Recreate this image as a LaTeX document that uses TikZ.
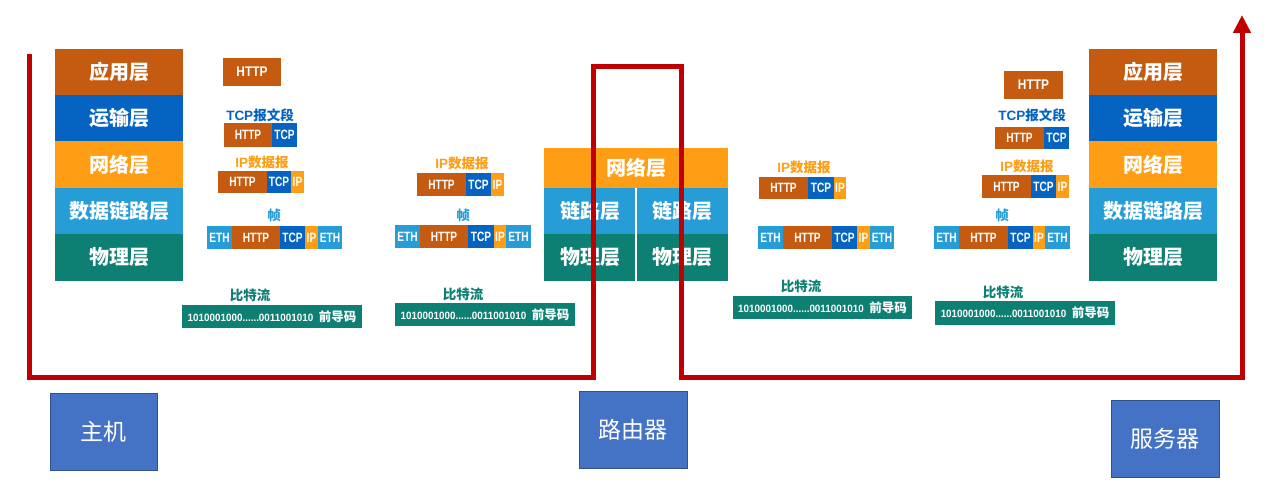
\documentclass[tikz,border=0pt]{standalone}
\usepackage{fontspec}
\setmainfont{Liberation Sans}
\newfontfamily\cjk{Noto Sans CJK SC}
\newfontfamily\segfont{Liberation Sans}[FakeStretch=0.75]
\newfontfamily\httpfont{Liberation Sans}[FakeStretch=0.85]
\newfontfamily\bitfont{Liberation Sans}[FakeStretch=0.93]
\usetikzlibrary{arrows.meta}
\definecolor{cApp}{RGB}{197,90,17}
\definecolor{cTrans}{RGB}{5,99,193}
\definecolor{cNet}{RGB}{255,158,21}
\definecolor{cLink}{RGB}{39,157,216}
\definecolor{cPhy}{RGB}{14,127,115}
\definecolor{cRed}{RGB}{192,0,0}
\definecolor{cBox}{RGB}{68,114,196}
\definecolor{cBoxEdge}{RGB}{47,82,143}
\begin{document}
\begin{tikzpicture}[x=1pt,y=-1pt,
  layerbox/.style={anchor=north west,inner sep=0pt,outer sep=0pt,text=white,
    font=\cjk\bfseries\fontsize{20}{24}\selectfont},
  seg/.style={anchor=north west,inner sep=0pt,outer sep=0pt,text=white,
    font=\segfont\bfseries\fontsize{13.5}{15}\selectfont},
  httpbox/.style={anchor=north west,inner sep=0pt,outer sep=0pt,text=white,fill=cApp,
    font=\httpfont\bfseries\fontsize{14}{16}\selectfont},
  plabel/.style={inner sep=0pt,font=\bfseries\fontsize{13.5}{16}\selectfont},
  bits/.style={anchor=north west,inner sep=0pt,outer sep=0pt,fill=cPhy,text=white,
    font=\bitfont\bfseries\fontsize{10.6}{12}\selectfont},
  hostbox/.style={draw=cBoxEdge,line width=1pt,fill=cBox,text=white,inner sep=0pt,
    minimum width=107pt,minimum height=77pt,font=\cjk\fontsize{23}{26}\selectfont},
  redline/.style={draw=cRed,line width=5pt,line join=miter}]
\useasboundingbox (0,0) rectangle (1269,495);

% ---------- left host stack ----------
\node[layerbox,fill=cApp,minimum width=128pt,minimum height=46pt] (lapp) at (55,49) {应用层};
\node[layerbox,fill=cTrans,minimum width=128pt,minimum height=46pt] (ltrans) at (55,95) {运输层};
\node[layerbox,fill=cNet,minimum width=128pt,minimum height=47pt] (lnet) at (55,141) {网络层};
\node[layerbox,fill=cLink,minimum width=128pt,minimum height=46pt] (llink) at (55,188) {数据链路层};
\node[layerbox,fill=cPhy,minimum width=128pt,minimum height=47pt] (lphy) at (55,234) {物理层};

% ---------- right server stack ----------
\node[layerbox,fill=cApp,minimum width=128pt,minimum height=46pt] (rapp) at (1089,49) {应用层};
\node[layerbox,fill=cTrans,minimum width=128pt,minimum height=46pt] (rtrans) at (1089,95) {运输层};
\node[layerbox,fill=cNet,minimum width=128pt,minimum height=47pt] (rnet) at (1089,141) {网络层};
\node[layerbox,fill=cLink,minimum width=128pt,minimum height=46pt] (rlink) at (1089,188) {数据链路层};
\node[layerbox,fill=cPhy,minimum width=128pt,minimum height=47pt] (rphy) at (1089,234) {物理层};

% ---------- router stack ----------
\node[layerbox,fill=cNet,minimum width=184pt,minimum height=40pt] (mnet) at (544,148) {网络层};
\node[layerbox,fill=cLink,minimum width=92pt,minimum height=46pt] (mlinka) at (544,188) {链路层};
\node[layerbox,fill=cLink,minimum width=92pt,minimum height=46pt] (mlinkb) at (636,188) {链路层};
\node[layerbox,fill=cPhy,minimum width=92pt,minimum height=47pt] (mphya) at (544,234) {物理层};
\node[layerbox,fill=cPhy,minimum width=92pt,minimum height=47pt] (mphyb) at (636,234) {物理层};
\draw[white,line width=1.5pt] (mlinkb.north west) -- (mphyb.south west);

% ---------- left packets ----------
\node[httpbox,minimum width=58pt,minimum height=28pt] (a1) at (223,58) {HTTP};
\node[plabel,text=cTrans] (a2) at (260,115) {TCP{\cjk 报文段}};
\node[seg,fill=cApp,minimum width=48pt,minimum height=24pt] (a3) at (224,123) {HTTP};
\node[seg,fill=cTrans,minimum width=25pt,minimum height=24pt] (a4) at (272,123) {TCP};
\node[plabel,text=cNet] (a5) at (262,162) {IP{\cjk 数据报}};
\node[seg,fill=cApp,minimum width=49pt,minimum height=22pt] (a6) at (218,171) {HTTP};
\node[seg,fill=cTrans,minimum width=24pt,minimum height=22pt] (a7) at (267,171) {TCP};
\node[seg,fill=cNet,minimum width=13pt,minimum height=22pt] (a8) at (291,171) {IP};
\node[plabel,text=cLink] (a9) at (274,215) {\cjk 帧};
\node[seg,fill=cLink,minimum width=25pt,minimum height=23pt] (a10) at (207,226) {ETH};
\node[seg,fill=cApp,minimum width=48pt,minimum height=23pt] (a11) at (232,226) {HTTP};
\node[seg,fill=cTrans,minimum width=25pt,minimum height=23pt] (a12) at (280,226) {TCP};
\node[seg,fill=cNet,minimum width=13pt,minimum height=23pt] (a13) at (305,226) {IP};
\node[seg,fill=cLink,minimum width=24pt,minimum height=23pt] (a14) at (318,226) {ETH};
\node[plabel,text=cPhy] (a15) at (250,295) {\cjk 比特流};
\node[bits,minimum width=180pt,minimum height=23pt] (a16) at (182,305) {1010001000......0011001010\ \ {\cjk\fontsize{12.5}{14}\selectfont 前导码}};

% ---------- middle-left packets ----------
\node[plabel,text=cNet] (b1) at (462,163) {IP{\cjk 数据报}};
\node[seg,fill=cApp,minimum width=49pt,minimum height=23pt] (b2) at (417,173) {HTTP};
\node[seg,fill=cTrans,minimum width=25pt,minimum height=23pt] (b3) at (466,173) {TCP};
\node[seg,fill=cNet,minimum width=13pt,minimum height=23pt] (b4) at (491,173) {IP};
\node[plabel,text=cLink] (b5) at (463,215) {\cjk 帧};
\node[seg,fill=cLink,minimum width=25pt,minimum height=23pt] (b6) at (395,225) {ETH};
\node[seg,fill=cApp,minimum width=48pt,minimum height=23pt] (b7) at (420,225) {HTTP};
\node[seg,fill=cTrans,minimum width=26pt,minimum height=23pt] (b8) at (468,225) {TCP};
\node[seg,fill=cNet,minimum width=12pt,minimum height=23pt] (b9) at (494,225) {IP};
\node[seg,fill=cLink,minimum width=25pt,minimum height=23pt] (b10) at (506,225) {ETH};
\node[plabel,text=cPhy] (b11) at (463,294) {\cjk 比特流};
\node[bits,minimum width=180pt,minimum height=23pt] (b12) at (395,303) {1010001000......0011001010\ \ {\cjk\fontsize{12.5}{14}\selectfont 前导码}};

% ---------- middle-right packets ----------
\node[plabel,text=cNet] (c1) at (804,167) {IP{\cjk 数据报}};
\node[seg,fill=cApp,minimum width=49pt,minimum height=22pt] (c2) at (759,177) {HTTP};
\node[seg,fill=cTrans,minimum width=26pt,minimum height=22pt] (c3) at (808,177) {TCP};
\node[seg,fill=cNet,minimum width=12pt,minimum height=22pt] (c4) at (834,177) {IP};
\node[seg,fill=cLink,minimum width=25pt,minimum height=23pt] (c5) at (758,226) {ETH};
\node[seg,fill=cApp,minimum width=49pt,minimum height=23pt] (c6) at (783,226) {HTTP};
\node[seg,fill=cTrans,minimum width=25pt,minimum height=23pt] (c7) at (832,226) {TCP};
\node[seg,fill=cNet,minimum width=13pt,minimum height=23pt] (c8) at (857,226) {IP};
\node[seg,fill=cLink,minimum width=24pt,minimum height=23pt] (c9) at (870,226) {ETH};
\node[plabel,text=cPhy] (c10) at (801,286) {\cjk 比特流};
\node[bits,minimum width=179pt,minimum height=23pt] (c11) at (733,296) {1010001000......0011001010\ \ {\cjk\fontsize{12.5}{14}\selectfont 前导码}};

% ---------- right packets ----------
\node[httpbox,minimum width=59pt,minimum height=28pt] (d1) at (1004,71) {HTTP};
\node[plabel,text=cTrans] (d2) at (1032,115) {TCP{\cjk 报文段}};
\node[seg,fill=cApp,minimum width=49pt,minimum height=22pt] (d3) at (995,127) {HTTP};
\node[seg,fill=cTrans,minimum width=25pt,minimum height=22pt] (d4) at (1044,127) {TCP};
\node[plabel,text=cNet] (d5) at (1027,166) {IP{\cjk 数据报}};
\node[seg,fill=cApp,minimum width=49pt,minimum height=23pt] (d6) at (982,175) {HTTP};
\node[seg,fill=cTrans,minimum width=25pt,minimum height=23pt] (d7) at (1031,175) {TCP};
\node[seg,fill=cNet,minimum width=13pt,minimum height=23pt] (d8) at (1056,175) {IP};
\node[plabel,text=cLink] (d9) at (1002,215) {\cjk 帧};
\node[seg,fill=cLink,minimum width=25pt,minimum height=23pt] (d10) at (934,226) {ETH};
\node[seg,fill=cApp,minimum width=49pt,minimum height=23pt] (d11) at (959,226) {HTTP};
\node[seg,fill=cTrans,minimum width=25pt,minimum height=23pt] (d12) at (1008,226) {TCP};
\node[seg,fill=cNet,minimum width=12pt,minimum height=23pt] (d13) at (1033,226) {IP};
\node[seg,fill=cLink,minimum width=25pt,minimum height=23pt] (d14) at (1045,226) {ETH};
\node[plabel,text=cPhy] (d15) at (1003,292) {\cjk 比特流};
\node[bits,minimum width=180pt,minimum height=24pt] (d16) at (935,301) {1010001000......0011001010\ \ {\cjk\fontsize{12.5}{14}\selectfont 前导码}};

% ---------- red path ----------
\coordinate (p0) at (29,54);
\coordinate (p1) at (29,377);
\coordinate (p2) at (593,377);
\coordinate (p3) at (593,67);
\coordinate (p4) at (681,67);
\coordinate (p5) at (681,377);
\coordinate (p6) at (1242,377);
\coordinate (p7) at (1242,15);
\draw[redline,-{Triangle[length=18pt,width=17pt]}] (p0) -- (p1) -- (p2) -- (p3) -- (p4) -- (p5) -- (p6) -- (p7);

% ---------- device boxes ----------
\node[hostbox] (host) at (103.5,431.5) {主机};
\node[hostbox,minimum width=108pt] (router) at (633,429.5) {路由器};
\node[hostbox,minimum width=108pt] (server) at (1165,438.5) {服务器};
\end{tikzpicture}
\end{document}
